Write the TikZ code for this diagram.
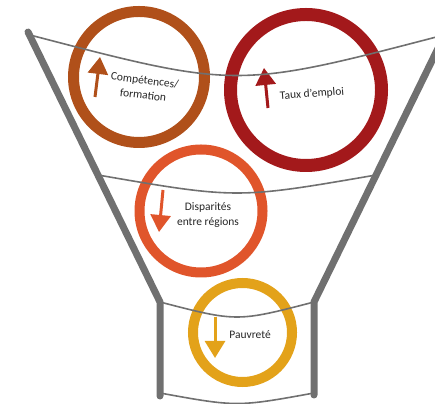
\documentclass[tikz,border=0pt]{standalone}
\usepackage{fontspec}
\setmainfont{Carlito}
\usetikzlibrary{arrows.meta}

\definecolor{cbrun}{HTML}{B0501A}
\definecolor{crouge}{HTML}{A3191B}
\definecolor{corange}{HTML}{E0552B}
\definecolor{cjaune}{HTML}{E3A21A}
\definecolor{cgris}{HTML}{707070}
\definecolor{ctexte}{HTML}{262626}

\tikzset{
  paroi/.style={cgris, line width=7pt, line cap=round, line join=round},
  bord/.style={cgris, line width=1.6pt},
  anneau/.style={circle, draw=#1, inner sep=0pt},
  fleche/.style={#1, line width=3pt, -{Triangle[width=20pt,length=17pt]}},
  etiq/.style={text=ctexte, font=\fontsize{11.5}{15}\selectfont, align=center, inner sep=0pt},
}

\begin{document}
\begin{tikzpicture}[x=1pt, y=1pt]
  \useasboundingbox (0,0) rectangle (435,403);
  \clip (0,0) rectangle (435,403);

  % Funnel points
  \coordinate (LT) at (28,371);
  \coordinate (LC) at (160,101);
  \coordinate (LB) at (160,7);
  \coordinate (RT) at (446,371);
  \coordinate (RC) at (314,101);
  \coordinate (RB) at (314,8);

  % Rings
  \node[anneau=cbrun, line width=11pt, minimum size=131pt] (comp) at (139,326) {}; % Competences
  \node[anneau=crouge, line width=13pt, minimum size=151pt] (emploi) at (306,313) {}; % Taux d'emploi
  \node[anneau=corange, line width=10pt, minimum size=123pt] (disp) at (201,192) {}; % Disparites
  \node[anneau=cjaune, line width=10pt, minimum size=99pt] (pauv) at (242.5,70.5) {}; % Pauvrete

  % Arrows
  \coordinate (f1a) at (95,306);  \coordinate (f1b) at (100,346);
  \coordinate (f2a) at (268,295); \coordinate (f2b) at (264,335);
  \coordinate (f3a) at (163,213); \coordinate (f3b) at (159,171);
  \coordinate (f4a) at (215,86);  \coordinate (f4b) at (215,45);
  \draw[fleche=cbrun] (f1a) -- (f1b); % up
  \draw[fleche=crouge] (f2a) -- (f2b); % up
  \draw[fleche=corange] (f3a) -- (f3b); % down
  \draw[fleche=cjaune] (f4a) -- (f4b); % down

  % Labels
  \node[etiq, rotate=-7] (tcomp) at (144,315.5) {Compétences/\\formation};
  \node[etiq, rotate=4] (temploi) at (312,309) {Taux d'emploi};
  \node[etiq] (tdisp) at (208,188) {Disparités\\entre régions};
  \node[etiq] (tpauv) at (250,68) {Pauvreté};

  % Rims
  \coordinate (b1g) at (30,368);  \coordinate (b1d) at (444,368);
  \coordinate (b2g) at (98,228);  \coordinate (b2d) at (376,228);
  \coordinate (b4g) at (160,10);  \coordinate (b4d) at (314,10);
  \draw[bord] (b1g) .. controls (237,314) .. (b1d);
  \draw[bord] (b2g) .. controls (237,204) .. (b2d);
  \draw[bord] (LC) .. controls (237,81) .. (RC);
  \draw[bord] (b4g) .. controls (237,-4) .. (b4d);

  % Walls
  \draw[paroi] (LT) -- (LC) -- (LB);
  \draw[paroi] (RT) -- (RC) -- (RB);
\end{tikzpicture}
\end{document}
